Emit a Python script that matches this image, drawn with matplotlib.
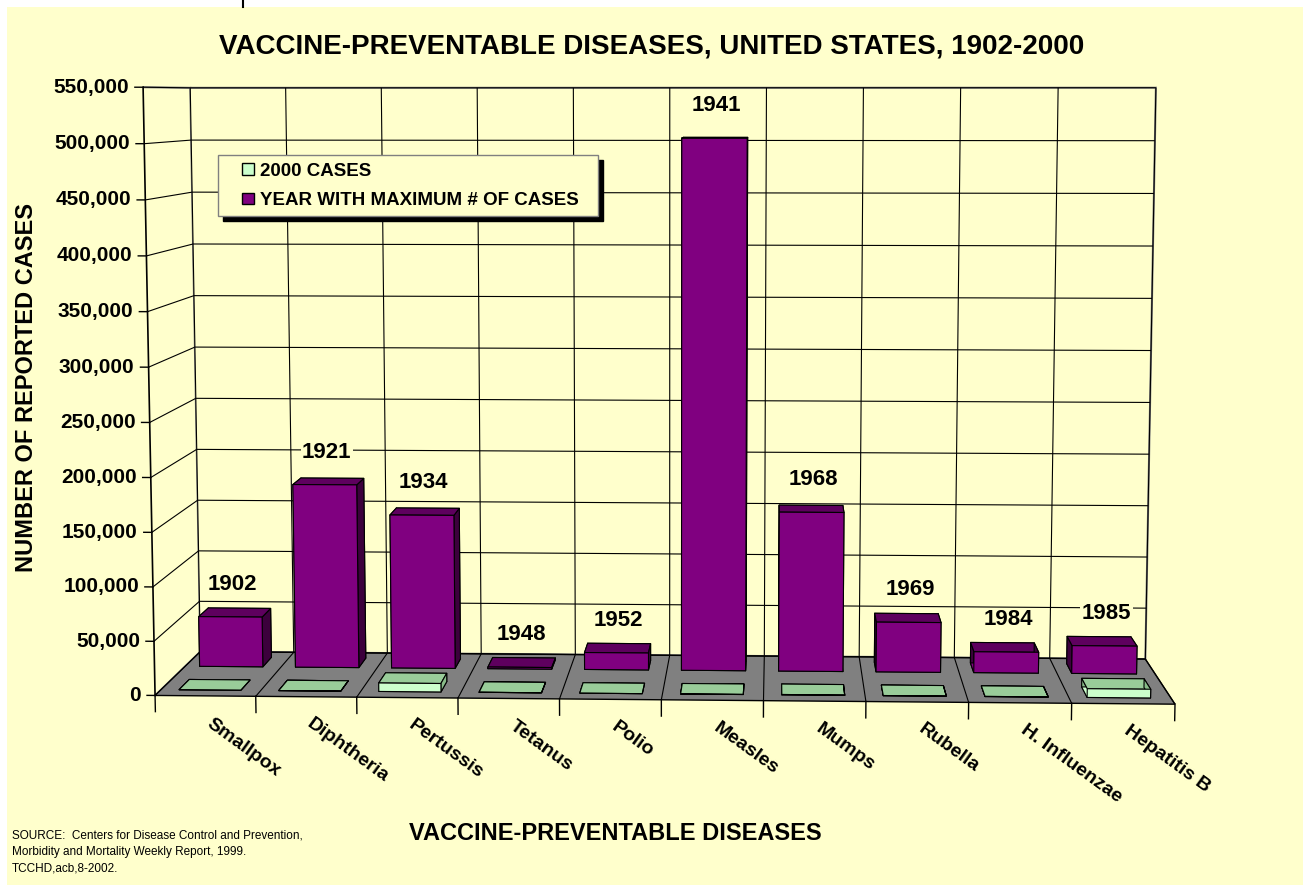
import matplotlib
matplotlib.use('Agg')
import matplotlib.pyplot as plt
import numpy as np
from matplotlib.patches import Patch, Rectangle
from matplotlib.lines import Line2D
from matplotlib.legend_handler import HandlerPatch
from mpl_toolkits.mplot3d import proj3d

plt.rcParams['font.family'] = ['Liberation Sans', 'DejaVu Sans']
plt.rcParams['grid.color'] = 'black'
plt.rcParams['grid.linewidth'] = 0.8

# data
diseases = ['Smallpox', 'Diphtheria', 'Pertussis', 'Tetanus', 'Polio',
            'Measles', 'Mumps', 'Rubella', 'H. Influenzae', 'Hepatitis B']
peak_years = ['1902', '1921', '1934', '1948', '1952',
              '1941', '1968', '1969', '1984', '1985']
peak_cases = [48164, 175885, 147271, 1560, 16316,
              503282, 152209, 47745, 20000, 26611]
cases_2000 = [0, 1, 7867, 35, 0, 86, 338, 176, 167, 8036]
yticks = list(range(0, 550001, 50000))

BG = '#FFFFCC'
PURPLE = '#800080'
MINT = '#CCFFCC'

fig = plt.figure(figsize=(13.03, 8.88), dpi=100, facecolor='white')
fig.add_artist(Rectangle((7 / 1303, 3 / 888), 1 - 7 / 1303, 878 / 888,
                         transform=fig.transFigure, facecolor=BG,
                         edgecolor='none', zorder=-5))
fig.add_artist(Line2D([243 / 1303] * 2, [1, 1 - 7 / 888], color='black', lw=1.5))

ax = fig.add_axes([0.0537, -0.1048, 0.8903, 1.3063], projection='3d')
ax.patch.set_alpha(0)
ax.set_proj_type('persp', focal_length=0.44)
ax.view_init(elev=6, azim=-87.75)
ax.set_box_aspect((9.72, 2.1, 5.8), zoom=0.984)

n = len(diseases)
bar_d = 0.45


def face_colors(top, front, side):
    # bar3d face order: bottom, top, front, back, left, right
    return [front, top, front, front, side, side] * n


ax.bar3d(np.arange(n) + 0.18, np.full(n, 0.25), np.zeros(n), 0.62, bar_d,
         cases_2000, color=face_colors('#99CC99', MINT, '#88BB88'),
         edgecolor='black', linewidth=0.8, shade=False)
ax.bar3d(np.arange(n) + 0.15, np.full(n, 1.3), np.zeros(n), 0.66, bar_d,
         peak_cases, color=face_colors('#5E005E', PURPLE, '#3C003C'),
         edgecolor='black', linewidth=0.8, shade=False)

ax.set_xlim(0, n)
ax.set_ylim(0, 2)
ax.set_zlim(0, 550000)
ax.set_xticks(range(n + 1))
ax.set_yticks([])
ax.set_zticks(yticks)
ax.set_xticklabels([])
ax.set_zticklabels([])

for axis in (ax.xaxis, ax.yaxis):
    axis.set_pane_color(BG)
    axis.pane.set_edgecolor('#808080')
    axis.pane.set_linewidth(1.5)
ax.zaxis.set_pane_color('#808080')
ax.zaxis.pane.set_edgecolor('black')
for axis in (ax.xaxis, ax.yaxis, ax.zaxis):
    axis._axinfo['tick']['inward_factor'] = 0
    axis._axinfo['tick']['outward_factor'] = 0
    axis.line.set_color((0, 0, 0, 0))

M = ax.get_proj()


def to2d(x, y, z):
    px, py, _ = proj3d.proj_transform(x, y, z, M)
    return px, py


# front value axis with ticks and labels
ax.plot([0, 0], [0, 0], [0, 550000], color='black', lw=1.2)
for v in yticks:
    ax.plot([-0.08, 0], [0, 0], [v, v], color='black', lw=1)
    ax.annotate(f'{v:,}', xy=to2d(0, 0, v), xycoords='data',
                xytext=(-14, 0), textcoords='offset pixels',
                ha='right', va='center', fontsize=15, fontweight='bold')

# category ticks and labels
for b in range(n + 1):
    ax.plot([b, b], [0, 0], [0, -15000], color='black', lw=1)
for i, name in enumerate(diseases):
    ax.annotate(name, xy=to2d(i + 0.5, 0, 0), xycoords='data',
                xytext=(8, -19), textcoords='offset pixels',
                rotation=-36, rotation_mode='anchor',
                ha='left', va='top', fontsize=14, fontweight='bold')

# year labels above the peak bars
for i, (yr, v) in enumerate(zip(peak_years, peak_cases)):
    ax.annotate(yr, xy=to2d(i + 0.5, 1.3, v), xycoords='data',
                xytext=(0, 22), textcoords='offset pixels',
                ha='center', va='bottom', fontsize=16, fontweight='bold',
                zorder=20, bbox=dict(facecolor=BG, edgecolor='none', pad=1))


def square(legend, orig_handle, xdescent, ydescent, width, height, fontsize):
    s = 0.6 * fontsize
    return Rectangle((width - s - xdescent, (height - s) / 2 - ydescent), s, s)


handles = [Patch(facecolor=MINT, edgecolor='black', label='2000 CASES'),
           Patch(facecolor=PURPLE, edgecolor='black',
                 label='YEAR WITH MAXIMUM # OF CASES')]
fig.legend(handles=handles, loc='upper left',
           bbox_to_anchor=(218 / 1303, 1 - 155 / 888, 380 / 1303, 0),
           mode='expand', prop=dict(weight='bold', size=13.5),
           fancybox=False, edgecolor='#808080', facecolor=BG, framealpha=1,
           borderpad=0.4, labelspacing=0.65, handlelength=1.5,
           handletextpad=0.35, borderaxespad=0,
           handler_map={Patch: HandlerPatch(patch_func=square)},
           shadow=dict(color='black', alpha=1, ox=3.5, oy=-3.5))

fig.text(0.5004, 1 - 47 / 888, 'VACCINE-PREVENTABLE DISEASES, UNITED STATES, 1902-2000',
         ha='center', va='center', fontsize=20, fontweight='bold')
fig.text(27 / 1303, 1 - 388 / 888, 'NUMBER OF REPORTED CASES', rotation=90,
         ha='center', va='center', fontsize=17, fontweight='bold')
fig.text(615 / 1303, 1 - 833 / 888, 'VACCINE-PREVENTABLE DISEASES',
         ha='center', va='center', fontsize=17, fontweight='bold')
source = ['SOURCE:  Centers for Disease Control and Prevention,',
          'Morbidity and Mortality Weekly Report, 1999.',
          'TCCHD,acb,8-2002.']
for k, line in enumerate(source):
    fig.text(12 / 1303, 1 - (835 + 16.5 * k) / 888, line, ha='left', va='center',
             fontsize=8.5)

fig.savefig('out.png', dpi=100, facecolor='white')
